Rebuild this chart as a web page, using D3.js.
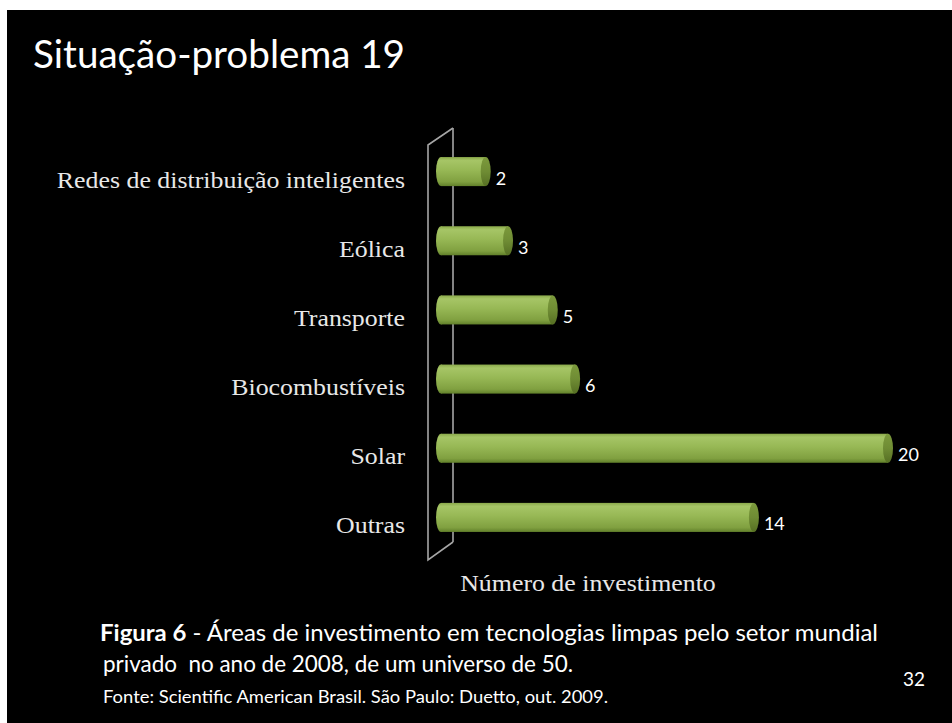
<!DOCTYPE html>
<html>
<head>
<meta charset="utf-8">
<script src="https://cdn.jsdelivr.net/npm/d3@7/dist/d3.min.js"></script>
<style>
  html, body { margin: 0; padding: 0; background: #ffffff; }
  svg { display: block; }
</style>
</head>
<body>
<script>
// Investment areas, top to bottom
const categories = [
  "Redes de distribuição inteligentes",
  "Eólica",
  "Transporte",
  "Biocombustíveis",
  "Solar",
  "Outras"
];
const values = [2, 3, 5, 6, 20, 14];
const xDomain = [0, 20];

const titleText = "Situação-problema 19";
const axisTitle = "Número de investimento";
const captionBold = "Figura 6";
const captionRest = " - Áreas de investimento em tecnologias limpas pelo setor mundial";
const captionLine2 = "privado  no ano de 2008, de um universo de 50.";
const sourceText = "Fonte: Scientific American Brasil. São Paulo: Duetto, out. 2009.";
const pageNumber = "32";

const W = 952, H = 723;
const svg = d3.select("body").append("svg").attr("width", W).attr("height", H);

// slide background
svg.append("rect").attr("x", 0).attr("y", 0).attr("width", W).attr("height", H).attr("fill", "#ffffff");
svg.append("rect").attr("x", 7).attr("y", 10).attr("width", W - 7).attr("height", H - 10).attr("fill", "#000000");

const sans = "Lato, 'Open Sans', 'Noto Sans', sans-serif";
const serif = "'Liberation Serif', 'Times New Roman', serif";

// slide title
svg.append("text")
  .attr("x", 33).attr("y", 68)
  .attr("font-family", sans).attr("font-size", 39)
  .attr("fill", "#ffffff")
  .attr("textLength", 372).attr("lengthAdjust", "spacingAndGlyphs")
  .text(titleText);

// scales
const x = d3.scaleLinear().domain(xDomain).range([441, 888]);
const y = d3.scaleBand().domain(categories).range([137, 552]).paddingInner(0.58).paddingOuter(0.29);
const bh = y.bandwidth();
const rx = 5;
const depth = 25;        // horizontal depth of the 3D wall
const lift = 17;         // vertical lift of the back wall edge

// gradients for the cylinders
const defs = svg.append("defs");
const gBody = defs.append("linearGradient").attr("id", "cylBody").attr("x1", 0).attr("y1", 0).attr("x2", 0).attr("y2", 1);
[[0, "#8aa94a"], [0.12, "#a6c566"], [0.45, "#97b855"], [0.85, "#80a040"], [1, "#61802a"]]
  .forEach(([o, c]) => gBody.append("stop").attr("offset", o).attr("stop-color", c));
const gCap = defs.append("linearGradient").attr("id", "cylCap").attr("x1", 0).attr("y1", 0).attr("x2", 0).attr("y2", 1);
[[0, "#7c9a3c"], [0.5, "#6f8c34"], [1, "#566f23"]]
  .forEach(([o, c]) => gCap.append("stop").attr("offset", o).attr("stop-color", c));

// 3D wall (axis plane)
const wallTop = y.range()[0] - 9;
const wallBot = y.range()[1] - 10;
const backX = x(0) + 12;
const frontX = backX - depth;
const wall = svg.append("g").attr("stroke", "#a6a6a6").attr("stroke-width", 1.6).attr("fill", "none");
wall.append("path").attr("d", `M${backX},${wallTop} L${backX},${wallBot}`);
wall.append("path").attr("d", `M${backX},${wallTop} L${frontX},${wallTop + lift} L${frontX},${wallBot + lift + 1} L${backX},${wallBot}`);

// bars as cylinders
const bars = svg.append("g").selectAll("g").data(categories).join("g")
  .attr("transform", d => `translate(0,${y(d)})`);

bars.append("ellipse")
  .attr("cx", x(0)).attr("cy", bh / 2).attr("rx", rx).attr("ry", bh / 2)
  .attr("fill", "url(#cylBody)");
bars.append("rect")
  .attr("x", x(0)).attr("y", 0)
  .attr("width", (d, i) => x(values[i]) - x(0)).attr("height", bh)
  .attr("fill", "url(#cylBody)");
bars.append("ellipse")
  .attr("cx", (d, i) => x(values[i])).attr("cy", bh / 2).attr("rx", rx).attr("ry", bh / 2)
  .attr("fill", "url(#cylCap)");

// value labels
bars.append("text")
  .attr("x", (d, i) => x(values[i]) + rx + 5)
  .attr("y", bh / 2 + 13)
  .attr("font-family", sans).attr("font-size", 18)
  .attr("fill", "#ffffff")
  .text((d, i) => values[i]);

// category labels (serif, slightly widened)
const stretch = 1.1;
const catLabels = svg.append("g").selectAll("text").data(categories).join("text")
  .attr("x", 405)
  .attr("y", d => y(d) + bh / 2 + 16)
  .attr("text-anchor", "end")
  .attr("font-family", serif).attr("font-size", 23.5)
  .attr("fill", "#e8e8e8")
  .text(d => d);
catLabels.each(function () {
  const len = this.getComputedTextLength();
  d3.select(this).attr("textLength", len * stretch).attr("lengthAdjust", "spacingAndGlyphs");
});

// axis title
const axT = svg.append("text")
  .attr("x", 588).attr("y", 591)
  .attr("text-anchor", "middle")
  .attr("font-family", serif).attr("font-size", 23.5)
  .attr("fill", "#e8e8e8")
  .text(axisTitle);
axT.attr("textLength", axT.node().getComputedTextLength() * stretch).attr("lengthAdjust", "spacingAndGlyphs");

// caption
const cap1 = svg.append("text")
  .attr("x", 100).attr("y", 641)
  .attr("font-family", sans).attr("font-size", 23)
  .attr("fill", "#ffffff")
  .attr("textLength", 778).attr("lengthAdjust", "spacingAndGlyphs");
cap1.append("tspan").attr("font-weight", "bold").text(captionBold);
cap1.append("tspan").text(captionRest);

svg.append("text")
  .attr("x", 103).attr("y", 672)
  .attr("font-family", sans).attr("font-size", 23)
  .attr("fill", "#ffffff")
  .attr("textLength", 470).attr("lengthAdjust", "spacingAndGlyphs")
  .attr("xml:space", "preserve").style("white-space", "pre")
  .text(captionLine2);

svg.append("text")
  .attr("x", 103).attr("y", 703)
  .attr("font-family", sans).attr("font-size", 17)
  .attr("fill", "#ffffff")
  .attr("textLength", 505).attr("lengthAdjust", "spacingAndGlyphs")
  .text(sourceText);

svg.append("text")
  .attr("x", 903).attr("y", 686)
  .attr("font-family", sans).attr("font-size", 19)
  .attr("fill", "#ffffff")
  .attr("textLength", 22).attr("lengthAdjust", "spacingAndGlyphs")
  .text(pageNumber);
</script>
</body>
</html>
